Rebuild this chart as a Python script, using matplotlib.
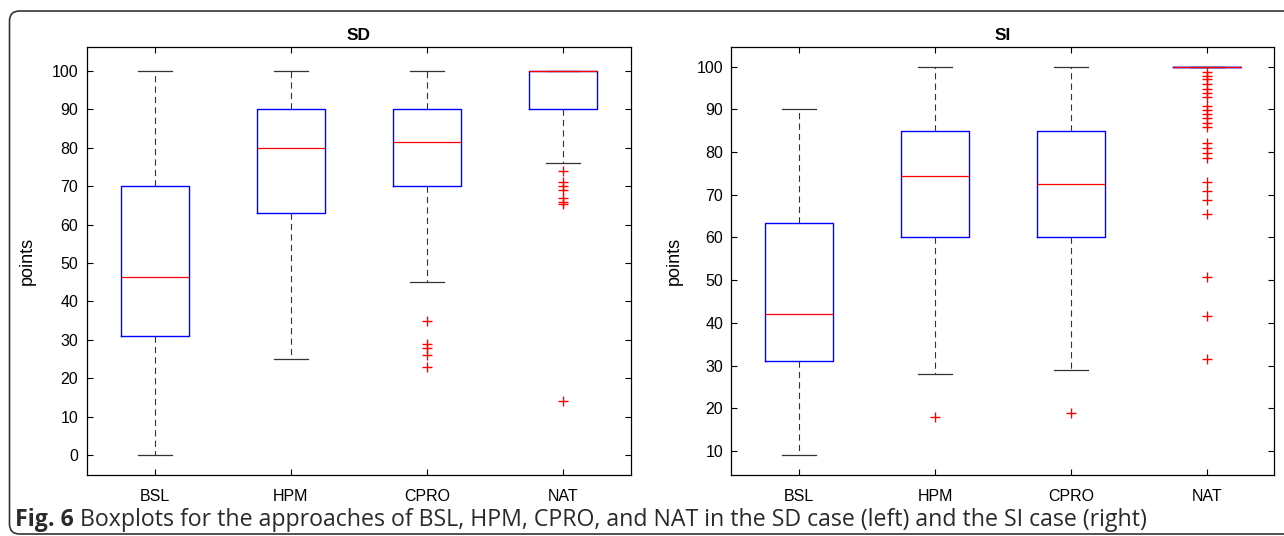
import matplotlib
matplotlib.use("Agg")
import matplotlib.pyplot as plt
from matplotlib.patches import FancyBboxPatch

plt.rcParams['font.family'] = ['Liberation Sans', 'DejaVu Sans']
plt.rcParams['lines.scale_dashes'] = False

categories = ['BSL', 'HPM', 'CPRO', 'NAT']

# SD case
sd_q1 = [31, 63, 70, 90]
sd_med = [46.5, 80, 81.5, 100]
sd_q3 = [70, 90, 90, 100]
sd_lo = [0, 25, 45, 76]
sd_hi = [100, 100, 100, 100]
sd_out = [[], [], [35, 29, 28, 26, 23],
          [74, 71, 70, 69, 67, 66, 65.5, 14]]

# SI case
si_q1 = [31, 60, 60, 100]
si_med = [42, 74.5, 72.5, 100]
si_q3 = [63.5, 85, 85, 100]
si_lo = [9, 28, 29, 100]
si_hi = [90, 100, 100, 100]
si_out = [[], [18], [19],
          [98.8, 97.9, 97.0, 95.9, 94.8, 93.9, 92.9, 90.8, 89.8, 88.8, 87.9,
           86.9, 85.9, 82.0, 81.0, 79.8, 78.7, 73.0, 70.9, 68.8, 65.6,
           50.7, 41.7, 31.6]]

sd_ticks = list(range(0, 101, 10))
si_ticks = list(range(10, 101, 10))

caption_bold = 'Fig. 6'
caption_text = ('Boxplots for the approaches of BSL, HPM, CPRO, and NAT in the SD case '
                '(left) and the SI case (right)')


def make_stats(q1, med, q3, lo, hi, out):
    return [dict(q1=a, med=m, q3=b, whislo=l, whishi=h, fliers=f, label=c)
            for a, m, b, l, h, f, c in zip(q1, med, q3, lo, hi, out, categories)]


def draw(ax, stats, title, ticks, ylim, lab_x):
    ax.bxp(stats, widths=0.5,
           boxprops=dict(color='#0000ff', linewidth=1.0),
           medianprops=dict(color='#ff0000', linewidth=0.9),
           whiskerprops=dict(color='#333333', linewidth=0.8, linestyle=(0, (4.5, 3))),
           capprops=dict(color='#333333', linewidth=0.9),
           flierprops=dict(marker='+', markeredgecolor='#ff0000', markersize=7,
                           markeredgewidth=1.0, linestyle='none'),
           capwidths=0.25)
    ax.set_xlim(0.5, 4.5)
    ax.set_ylim(*ylim)
    ax.set_yticks(ticks)
    ax.set_title(title, fontsize=12.5, fontweight='bold', pad=5)
    ax.set_ylabel('points', fontsize=13)
    ax.yaxis.set_label_coords(lab_x, 0.5)
    ax.tick_params(direction='in', length=4, width=0.8, top=True, right=True,
                   labelsize=11.5)
    ax.tick_params(axis='x', pad=10)
    ax.tick_params(axis='y', pad=6)
    for s in ax.spines.values():
        s.set_linewidth(0.9)


fig = plt.figure(figsize=(12.84, 5.36), dpi=100)
ax1 = fig.add_axes([0.0674, 0.1138, 0.4241, 0.7994])
ax2 = fig.add_axes([0.5697, 0.1138, 0.4229, 0.7994])

draw(ax1, make_stats(sd_q1, sd_med, sd_q3, sd_lo, sd_hi, sd_out), 'SD',
     sd_ticks, (-5.2, 106.4), -0.093)
draw(ax2, make_stats(si_q1, si_med, si_q3, si_lo, si_hi, si_out), 'SI',
     si_ticks, (4.4, 104.7), -0.089)

# rounded frame around the figure (runs off the right edge)
frame = FancyBboxPatch((0.095, 0.02), 13.2, 5.23,
                       boxstyle="round,pad=0,rounding_size=0.1",
                       transform=fig.dpi_scale_trans, fill=False,
                       edgecolor='#333333', linewidth=1.2)
fig.add_artist(frame)

# caption: bold label + plain text, sized to span the same width as the original
cap_font = ['Open Sans', 'DejaVu Sans']
cap_y = (536 - 520) / 536
t1 = fig.text(15 / 1284, cap_y, caption_bold, fontsize=12, fontweight='bold',
              family=cap_font, va='center', color='#2a2a2a')
t2 = fig.text(0.1, cap_y, caption_text, fontsize=12,
              family=cap_font, va='center', color='#2a2a2a')
fig.canvas.draw()
w = t1.get_window_extent().width + t2.get_window_extent().width
size = 12 * (1131 - 6) / w
t1.set_fontsize(size)
t2.set_fontsize(size)
fig.canvas.draw()
bb = t1.get_window_extent()
t2.set_x((bb.x1 + 6) / 1284)

fig.savefig('out.png', dpi=100)
